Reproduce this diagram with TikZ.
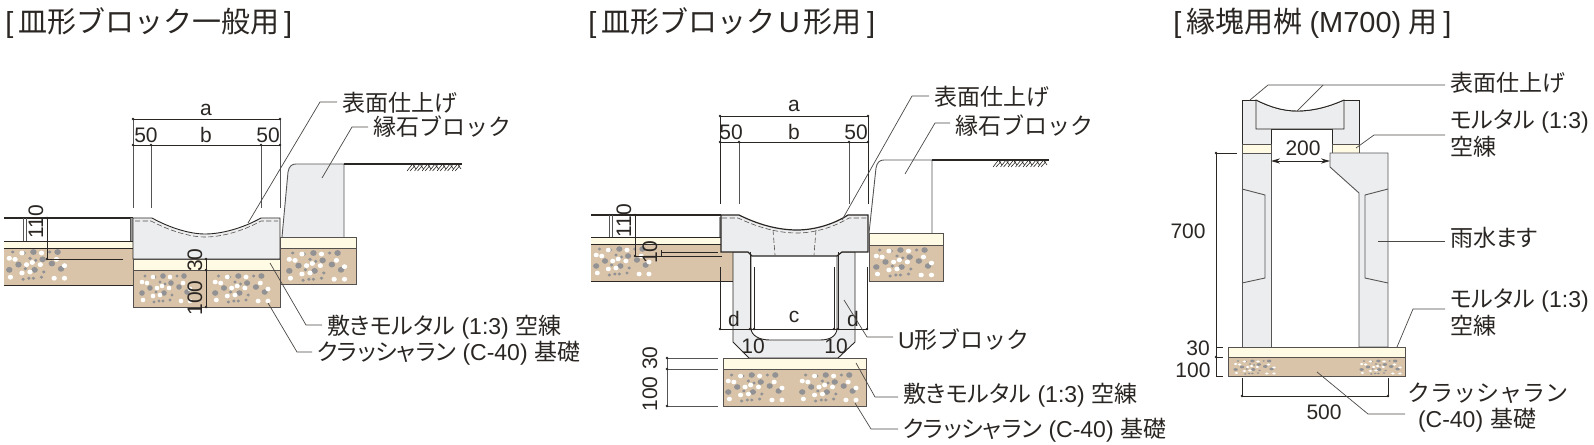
\documentclass[tikz,border=0pt]{standalone}
\usepackage{fontspec}
\setmainfont{Liberation Sans}
\newfontfamily\jp[RawFeature=+palt]{Noto Sans CJK JP}
\newfontfamily\jpf{Noto Sans CJK JP}
\newcommand\J[1]{{\jp #1}}
\newcommand\F[1]{{\jpf #1}}
\newcommand\pg{\hspace{.28em}}
\usetikzlibrary{arrows.meta}
\definecolor{ink}{HTML}{2A2623}
\definecolor{mid}{HTML}{555555}
\definecolor{cream}{HTML}{FFFAE3}
\definecolor{tan}{HTML}{D9C4A9}
\definecolor{conc}{HTML}{ECEDEE}
\definecolor{pebble}{HTML}{929294}
\tikzset{
  ln/.style={draw=ink,line width=.45pt},
  gl/.style={draw=mid,line width=.45pt},
  thick line/.style={draw=ink,line width=.8pt},
  lead/.style={draw=ink!85,line width=.35pt},
  dashl/.style={draw=ink!80,line width=.3pt,dash pattern=on 2.6pt off 1.2pt},
  creamf/.style={fill=cream,draw=ink!80,line width=.45pt},
  tanf/.style={fill=tan,draw=ink!80,line width=.45pt},
  concf/.style={fill=conc,draw=ink,line width=.45pt},
  ttl/.style={inner sep=0pt,anchor=west,text=ink,font=\fontsize{14.5}{16}\selectfont},
  lab/.style={inner sep=0pt,outer sep=2.5pt,anchor=west,text=ink,font=\fontsize{11.5}{14}\selectfont},
  dim/.style={inner sep=0pt,text=ink,font=\fontsize{10.5}{12}\selectfont}
}
\newcommand\gravel[4]{\begin{scope}[shift={(#1,#2)},xscale=#3,yscale=#4]
 \foreach \p/\q in {23/0,10/12,39/11,24/17,2/17,44/0,31/7,47/16}{\fill[pebble] (\p,\q) circle [radius=2.8];}
 \foreach \p/\q in {5/0,15/1,37/0,20/6,25/8,16/16,32/19,23/25,19/25,14/26,30/24}{\fill[pebble] (\p,\q) circle [radius=1.6];}
 \foreach \p/\q in {2/6,13/1,30/1,22/10,29/12,17/12,43/7,50/13,41/25,3/24,13/20,20/19,7/7,50/25}{\fill[white] (\p,\q) circle [radius=2.3];}
\end{scope}}
\newcommand\hatch[2]{\foreach \i in {0,...,6}{
 \draw[draw=ink,line width=.3pt] ({#1+\i*7.5},{#2+7}) -- ({#1+\i*7.5+5.5},{#2}) -- ({#1+\i*7.5+9},{#2+5});
 \draw[draw=ink,line width=.3pt] ({#1+\i*7.5+3},{#2+7}) -- ({#1+\i*7.5+8},{#2+1.5});}}
\newcommand\dt[1]{\foreach \p/\q in {#1}{\fill[ink] (\p,\q) circle [radius=1.3];}}
\begin{document}
\begin{tikzpicture}[x=.5pt,y=-.5pt]
\path[use as bounding box] (0,0) rectangle (1594,444);

% ---------- titles
\node[ttl] (t1) at (5,23) {[\,\F{皿形ブロック一般用}\,]};
\node[ttl] (t2) at (588,23) {[\,\F{皿形ブロック}\hspace{.12em}U\hspace{.12em}\F{形用}\hspace{.2em}]};
\node[ttl] (t3) at (1173,23) {[\,\F{縁塊用桝}\hspace{.25em}(M700)\hspace{.25em}\F{用}\hspace{.2em}]};

% ---------- left diagram
\fill[cream] (4,241) rectangle (133,248);
\fill[tan] (4,248) rectangle (133,285);
\draw[ln] (4,241) -- (133,241) (4,248) -- (133,248) (4,285) -- (133,285);
\gravel{7}{252}{1.15}{1.05}
\draw[thick line] (4,218) -- (133,218);
\draw[gl] (23,218) -- (23,241) (26,218) -- (26,241);
\draw[gl] (130,218) -- (130,241);
\fill[mid!60] (130.5,218) rectangle (133,241);

\path[concf] (133,218) -- (152,218) .. controls (170,228) and (190,234) .. (205,234) .. controls (222,234) and (243,228) .. (261,218) -- (280,218) -- (280,259) -- (133,259) -- cycle;
\draw[dashl] (135,221) -- (151,221) .. controls (170,231) and (190,237) .. (205,237) .. controls (222,237) and (243,231) .. (261,221) -- (278,221);
\path[creamf] (133,259) rectangle (280,270);
\path[tanf] (133,270) rectangle (280,307);
\gravel{140}{276}{1}{1}
\gravel{213}{276}{1.1}{1}
% curb
\path[fill=conc] (282,237) -- (288,172) .. controls (289,166) and (292,164) .. (296,164) -- (344,164) -- (344,237) -- cycle;
\draw[gl] (282,237) -- (288,172) .. controls (289,166) and (292,164) .. (296,164) -- (344,164) -- (344,237);
\draw[thick line] (344,164) -- (462,164);
\hatch{407}{164}
\path[creamf] (280,237) rectangle (356,248);
\path[tanf] (280,248) rectangle (356,284);
\gravel{287}{253}{1.15}{1.05}
% dims
\draw[ln] (133,119) -- (280,119) (133,145) -- (280,145);
\draw[gl] (133,119) -- (133,208) (280,119) -- (280,208) (151,145) -- (151,208) (261,145) -- (261,208);
\draw[ln] (47,218) -- (47,259) -- (123,259);
\draw[ln] (206,258) -- (206,307);
\dt{133/119,280/119,133/145,280/145,151/145,261/145,47/218,47/259,206/259,206/270,206/307}
\node[dim] (a1) at (206,110) {a};
\node[dim] (b1) at (206,135) {b};
\node[dim] (f1) at (146,135) {50};
\node[dim] (f2) at (268,135) {50};
\node[dim,rotate=90] (h1) at (36,222) {110};
\node[dim,rotate=90] (h2) at (195,260) {30};
\node[dim,rotate=90] (h3) at (195,298) {100};
% labels
\node[lab] (l1) at (337,103) {\J{表面仕上げ}};
\node[lab] (l2) at (368,127) {\F{縁石ブロック}};
\node[lab] (l3) at (322,327) {\J{敷きモルタル}\pg(1:3)\pg\J{空練}};
\node[lab] (l4) at (312,353) {\J{クラッシャラン}\pg(C-40)\pg\J{基礎}};
\coordinate (p1) at (248,223); \coordinate (q1) at (320,102);
\coordinate (p2) at (322,178); \coordinate (q2) at (352,127);
\coordinate (p3) at (270,263); \coordinate (q3) at (306,325);
\coordinate (p4) at (268,303); \coordinate (q4) at (297,352);
\draw[lead] (p1) -- (q1) -- (q1 -| l1.west);
\draw[lead] (p2) -- (q2) -- (q2 -| l2.west);
\draw[lead] (p3) -- (q3) -- (q3 -| l3.west);
\draw[lead] (p4) -- (q4) -- (q4 -| l4.west);

% ---------- middle diagram
\fill[cream] (591,237) rectangle (721,244);
\fill[tan] (591,244) rectangle (733,281);
\draw[ln] (591,237) -- (721,237) (591,244) -- (721,244) (591,281) -- (733,281);
\gravel{594}{249}{1.1}{1}
\draw[thick line] (591,215) -- (721,215);
\draw[gl] (609,215) -- (609,237) (612,215) -- (612,237);
\fill[mid!60] (719,217) rectangle (721,237);
% U block
\path[concf] (733,252) -- (733,342) -- (749,358) -- (838,358) -- (855,342) -- (855,252) -- (837,252) -- (837,328) .. controls (837,336) and (830,340) .. (820,340) -- (770,340) .. controls (760,340) and (751,336) .. (751,328) -- (751,252) -- cycle;
% block
\path[concf,line width=.6pt] (721,215) -- (739,215) .. controls (757,224) and (777,230) .. (797,230) .. controls (815,230) and (834,224) .. (848,215) -- (868,215) -- (868,252) -- (842,252) -- (837,256) -- (752,256) -- (748,252) -- (721,252) -- cycle;
\draw[dashl] (722,218) -- (738,218) .. controls (757,227) and (777,233) .. (797,233) .. controls (815,233) and (834,227) .. (849,218) -- (867,218);
\draw[dashl] (773,230) -- (775,255) (816,230) -- (814,255);
% base
\path[creamf] (723,358) rectangle (866,369);
\path[tanf] (723,369) rectangle (866,406);
\gravel{726}{375}{1.12}{1}
\gravel{800}{375}{1.12}{1}
% curb outline
\draw[gl] (869,233) -- (876,168) .. controls (877,162) and (880,160) .. (884,160) -- (932,160) -- (932,233);
\draw[thick line] (932,160) -- (1049,160);
\hatch{993}{160}
\path[creamf] (869,233) rectangle (943,245);
\path[tanf] (869,245) rectangle (943,281);
\gravel{874}{250}{1.15}{1}
% dims
\draw[ln] (720,116) -- (868,116) (720,142) -- (868,142);
\draw[ln] (720,116) -- (720,204) (868,116) -- (868,204);
\draw[gl] (739,142) -- (739,204) (849,142) -- (849,204);
\draw[ln] (635,215) -- (635,256) -- (722,256);
\draw[ln] (661,252) -- (718,252) (661,250) -- (661,257);
\draw[ln] (720,267) -- (720,329) -- (867,329) -- (867,267);
\draw[ln] (750,252) -- (750,329) (754,267) -- (754,329) (834,267) -- (834,329) (838,252) -- (838,329);
\draw[gl] (667,358) -- (667,406) (667,358) -- (718,358) (667,369) -- (718,369) (667,406) -- (718,406);
\dt{720/116,868/116,720/142,868/142,739/142,849/142,635/215,635/256,720/329,750/329,754/329,834/329,838/329,867/329,667/358,667/369,667/406}
\node[dim] (a2) at (794,106) {a};
\node[dim] (b2) at (794,132) {b};
\node[dim] (f3) at (731,132) {50};
\node[dim] (f4) at (856,132) {50};
\node[dim,rotate=90] (h4) at (624,221) {110};
\node[dim,rotate=90] (h5) at (650,252) {10};
\node[dim] (d1) at (734,319) {d};
\node[dim] (c1) at (794,317) {c};
\node[dim] (d2) at (853,319) {d};
\node[dim] (e1) at (753,346) {10};
\node[dim] (e2) at (836,346) {10};
\node[dim,rotate=90] (h6) at (650,358) {30};
\node[dim,rotate=90] (h7) at (650,394) {100};
\node[lab] (m1) at (929,97) {\J{表面仕上げ}};
\node[lab] (m2) at (950,126) {\F{縁石ブロック}};
\node[lab] (m3) at (893,340) {U\F{形ブロック}};
\node[lab] (m4) at (898,395) {\J{敷きモルタル}\pg(1:3)\pg\J{空練}};
\node[lab] (m5) at (898,430) {\J{クラッシャラン}\pg(C-40)\pg\J{基礎}};
\coordinate (r1) at (842,220); \coordinate (s1) at (912,96);
\coordinate (r2) at (905,174); \coordinate (s2) at (935,123);
\coordinate (r3) at (844,300); \coordinate (s3) at (867,337);
\coordinate (r4) at (856,363); \coordinate (s4) at (875,397);
\coordinate (r5) at (855,403); \coordinate (s5) at (871,429);
\draw[lead] (r1) -- (s1) -- (s1 -| m1.west);
\draw[lead] (r2) -- (s2) -- (s2 -| m2.west);
\draw[lead] (r3) -- (s3) -- (s3 -| m3.west);
\draw[lead] (r4) -- (s4) -- (s4 -| m4.west);
\draw[lead] (r5) -- (s5) -- (s5 -| m5.west);

% ---------- right diagram
\path[concf] (1242,100) -- (1256,100) -- (1344,100) -- (1359,100) -- (1359,144) -- (1332,144) -- (1332,129) -- (1271,129) -- (1271,144) -- (1242,144) -- cycle;
\path[concf] (1256,100) .. controls (1270,107) and (1283,111) .. (1297,111) .. controls (1313,111) and (1328,107) .. (1344,100) -- (1344,129) -- (1256,129) -- cycle;
\fill[white] (1256,90) -- (1344,90) -- (1344,100) .. controls (1328,107) and (1313,111) .. (1297,111) .. controls (1283,111) and (1270,107) .. (1256,100) -- cycle;
\draw[ln] (1242,100) -- (1256,100) (1344,100) -- (1359,100);
\draw[ln] (1256,100) .. controls (1270,107) and (1283,111) .. (1297,111) .. controls (1313,111) and (1328,107) .. (1344,100);
\path[creamf] (1242,144) rectangle (1271,153);
\path[creamf] (1332,144) rectangle (1359,153);
\path[fill=conc,draw=mid,line width=.45pt] (1242,153) rectangle (1271,347);
\path[fill=conc,draw=mid,line width=.45pt] (1330,153) -- (1388,153) -- (1388,347) -- (1359,347) -- (1359,193) -- (1330,167) -- cycle;
\draw[gl] (1242,189) -- (1265,195) -- (1265,278) -- (1242,283);
\draw[gl] (1388,189) -- (1365,195) -- (1365,278) -- (1388,283);
\path[creamf] (1228,347) rectangle (1405,357);
\path[tanf] (1228,357) rectangle (1405,376);
\gravel{1234}{361}{.8}{.5}
\gravel{1360}{361}{.8}{.5}
% dims
\draw[ln,{Stealth[length=4.5pt,width=2.6pt]}-{Stealth[length=4.5pt,width=2.6pt]}] (1271,161) -- (1330,161);
\draw[ln] (1237,153) -- (1216,153) -- (1216,376) -- (1223,376) (1216,347) -- (1223,347) (1216,357) -- (1223,357);
\draw[ln] (1242,378) -- (1242,396) -- (1388,396) -- (1388,378);
\dt{1216/153,1242/396,1388/396,1216/357}
\node[dim] (n1) at (1303,148) {200};
\node[dim] (n2) at (1188,231) {700};
\node[dim] (n3) at (1198,348) {30};
\node[dim] (n4) at (1193,370) {100};
\node[dim] (n5) at (1324,412) {500};
\node[lab] (k1) at (1445,83) {\J{表面仕上げ}};
\node[lab] (k2) at (1445,122) {\J{モルタル}\pg(1:3)};
\node[lab] (k2b) at (1445,147) {\J{空練}};
\node[lab] (k3) at (1445,238) {\J{雨水ます}};
\node[lab] (k4) at (1445,301) {\J{モルタル}\pg(1:3)};
\node[lab] (k4b) at (1445,326) {\J{空練}};
\node[lab] (k5) at (1402,393) {\F{クラッシャラン}};
\node[lab] (k5b) at (1413,420) {(C-40)\,\,\J{基礎}};
\coordinate (u1) at (1250,100); \coordinate (v1) at (1268,85);
\coordinate (u1b) at (1297,111); \coordinate (v1b) at (1323,85);
\coordinate (u2) at (1356,148); \coordinate (v2) at (1374,135);
\coordinate (u3) at (1378,241);
\coordinate (u4) at (1397,347); \coordinate (v4) at (1413,309);
\coordinate (u5) at (1317,372); \coordinate (v5) at (1368,414);
\draw[lead] (u1) -- (v1) -- (v1 -| k1.west);
\draw[lead] (u1b) -- (v1b);
\draw[lead] (u2) -- (v2) -- (v2 -| k2.west);
\draw[lead] (u3) -- (u3 -| k3.west);
\draw[lead] (u4) -- (v4) -- (v4 -| k4.west);
\draw[lead] (u5) -- (v5) -- (1405,414);
\end{tikzpicture}
\end{document}
